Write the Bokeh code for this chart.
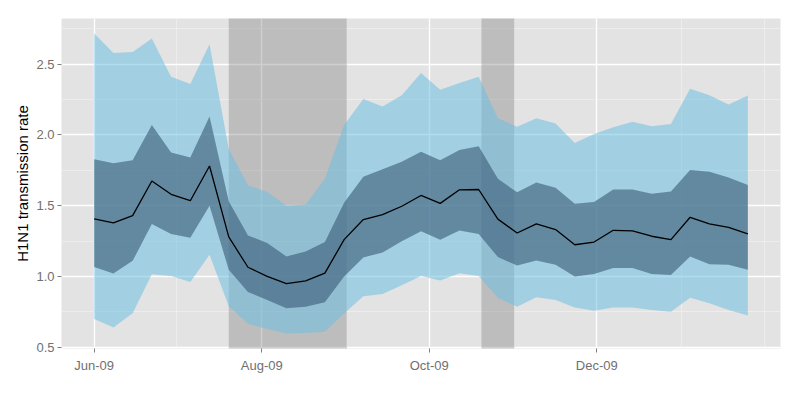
import pandas as pd
from bokeh.plotting import figure
from bokeh.models import Range1d, FixedTicker, DatetimeTickFormatter, PrintfTickFormatter
from bokeh.embed import file_html
from bokeh.resources import INLINE

# weekly estimates
dates = ["2009-06-01", "2009-06-08", "2009-06-15", "2009-06-22", "2009-06-29",
         "2009-07-06", "2009-07-13", "2009-07-20", "2009-07-27", "2009-08-03",
         "2009-08-10", "2009-08-17", "2009-08-24", "2009-08-31", "2009-09-07",
         "2009-09-14", "2009-09-21", "2009-09-28", "2009-10-05", "2009-10-12",
         "2009-10-19", "2009-10-26", "2009-11-02", "2009-11-09", "2009-11-16",
         "2009-11-23", "2009-11-30", "2009-12-07", "2009-12-14", "2009-12-21",
         "2009-12-28", "2010-01-04", "2010-01-11", "2010-01-18", "2010-01-25"]

median = [1.407, 1.378, 1.430, 1.674, 1.580, 1.535, 1.780, 1.279, 1.065, 1.000,
          0.950, 0.969, 1.023, 1.260, 1.402, 1.437, 1.496, 1.572, 1.516, 1.612,
          1.614, 1.405, 1.307, 1.371, 1.331, 1.224, 1.243, 1.326, 1.322, 1.284,
          1.260, 1.418, 1.371, 1.347, 1.300]

lo50 = [1.066, 1.020, 1.110, 1.370, 1.300, 1.274, 1.500, 1.047, 0.890, 0.834,
        0.775, 0.786, 0.817, 1.000, 1.134, 1.170, 1.248, 1.319, 1.260, 1.324,
        1.300, 1.137, 1.077, 1.113, 1.082, 1.000, 1.018, 1.059, 1.059, 1.018,
        1.011, 1.141, 1.087, 1.082, 1.047]

hi50 = [1.828, 1.800, 1.820, 2.070, 1.876, 1.840, 2.130, 1.532, 1.290, 1.236,
        1.141, 1.177, 1.244, 1.520, 1.705, 1.757, 1.810, 1.880, 1.820, 1.894,
        1.920, 1.690, 1.594, 1.663, 1.627, 1.513, 1.525, 1.615, 1.615, 1.584,
        1.600, 1.752, 1.740, 1.698, 1.646]

lo95 = [0.700, 0.640, 0.740, 1.016, 1.004, 0.960, 1.153, 0.790, 0.665, 0.628,
        0.597, 0.600, 0.609, 0.739, 0.860, 0.876, 0.938, 1.004, 0.971, 1.023,
        1.004, 0.850, 0.786, 0.853, 0.834, 0.780, 0.758, 0.780, 0.780, 0.763,
        0.751, 0.850, 0.810, 0.763, 0.725]

hi95 = [2.716, 2.579, 2.586, 2.680, 2.410, 2.360, 2.640, 1.900, 1.645, 1.596,
        1.500, 1.508, 1.690, 2.070, 2.254, 2.200, 2.280, 2.437, 2.318, 2.366,
        2.410, 2.117, 2.058, 2.117, 2.080, 1.942, 2.006, 2.053, 2.093, 2.060,
        2.077, 2.325, 2.280, 2.214, 2.278]

# school holidays (shaded)
holiday_start = ["2009-07-20", "2009-10-20"]
holiday_end = ["2009-09-01", "2009-11-01"]

# ticks
x_major = ["2009-06-01", "2009-08-01", "2009-10-01", "2009-12-01"]
x_minor = ["2009-07-01", "2009-09-01", "2009-11-01", "2010-01-01", "2010-01-31"]
y_major = [0.5, 1.0, 1.5, 2.0, 2.5]
y_minor = [0.75, 1.25, 1.75, 2.25, 2.75]


def to_ms(lst):
    return [float(v) for v in (pd.to_datetime(lst).asi8 // 10**6)]


x = pd.to_datetime(dates)
hs = pd.to_datetime(holiday_start)
he = pd.to_datetime(holiday_end)

# ggplot-like 5% expansion
xspan = x[-1] - x[0]
x_lo = x[0] - xspan * 0.05
x_hi = x[-1] + xspan * 0.05
ymin = min(lo95)
ymax = max(hi95)
yspan = ymax - ymin

p = figure(frame_width=719, frame_height=330, output_backend="svg",
           toolbar_location=None,
           x_range=Range1d(x_lo, x_hi),
           y_range=Range1d(ymin - 0.05 * yspan, ymax + 0.05 * yspan),
           min_border_left=61, min_border_right=20,
           min_border_top=18, min_border_bottom=52)

p.background_fill_color = "#E3E3E3"
p.border_fill_color = "white"
p.outline_line_color = None

xt = FixedTicker(ticks=to_ms(x_major), minor_ticks=to_ms(x_minor))
yt = FixedTicker(ticks=y_major, minor_ticks=y_minor)
p.xaxis.ticker = xt
p.yaxis.ticker = yt
p.xgrid.ticker = xt
p.ygrid.ticker = yt

fmt = "%b-%y"
p.xaxis.formatter = DatetimeTickFormatter(days=fmt, months=fmt, years=fmt,
                                          hours=fmt, minutes=fmt, seconds=fmt,
                                          milliseconds=fmt, microseconds=fmt)
p.yaxis.formatter = PrintfTickFormatter(format="%.1f")

for g in (p.xgrid, p.ygrid):
    g.grid_line_color = "white"
    g.grid_line_width = 1.4
    g.minor_grid_line_color = "#F0F0F0"
    g.minor_grid_line_width = 0.7

for ax in (p.xaxis, p.yaxis):
    ax.axis_line_color = None
    ax.major_tick_line_color = "#7F7F7F"
    ax.major_tick_in = 0
    ax.major_tick_out = 4
    ax.minor_tick_line_color = None
    ax.major_label_text_color = "#707070"
    ax.major_label_text_font = "Liberation Sans"
    ax.major_label_text_font_size = "13px"
    ax.major_label_standoff = 5

p.yaxis.major_label_standoff = 3
p.yaxis.axis_label = "H1N1 transmission rate"
p.yaxis.axis_label_text_font = "Liberation Sans"
p.yaxis.axis_label_text_font_style = "normal"
p.yaxis.axis_label_text_font_size = "15px"
p.yaxis.axis_label_text_color = "black"
p.yaxis.axis_label_standoff = 2

# shaded holiday periods
p.quad(left=hs, right=he, bottom=0, top=4, fill_color="#808080",
       fill_alpha=0.38, line_color=None)

# uncertainty bands
p.varea(x=x, y1=lo95, y2=hi95, fill_color="#70C0E2", fill_alpha=0.55)
p.varea(x=x, y1=lo50, y2=hi50, fill_color="#375A75", fill_alpha=0.6)

p.line(x=x, y=median, line_color="black", line_width=1.3)

html = file_html(p, INLINE)
open("out.html", "w").write(html)
